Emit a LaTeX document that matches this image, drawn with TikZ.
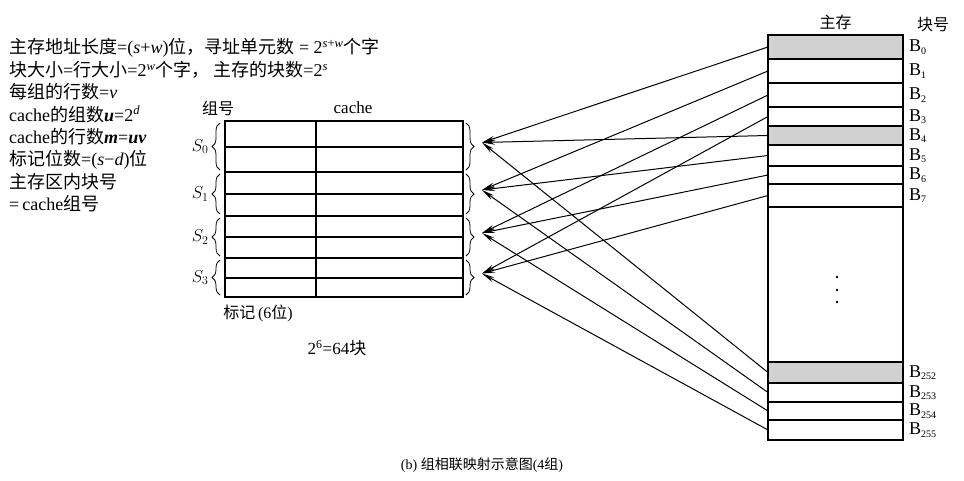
\documentclass[tikz,border=0pt]{standalone}
\usepackage{amsmath}
\usepackage{fontspec}
\setmainfont{Liberation Serif}
\newfontfamily\cjk{Noto Sans CJK SC}
\usetikzlibrary{arrows.meta,positioning,decorations.pathreplacing}

\newcommand{\vr}[1]{\textit{#1}}

\tikzset{
  txt/.style={font=\fontsize{16}{19}\selectfont, inner sep=1pt},
  note/.style={font=\fontsize{18}{22}\selectfont, inner sep=1pt, anchor=base west},
  memrow/.style={draw, line width=1.3pt, minimum width=135pt, inner sep=0pt, outer sep=0pt},
  shaded/.style={memrow, fill=black!18},
  cell/.style={draw, line width=1.2pt, inner sep=0pt, outer sep=0pt},
  setbrace/.style={decorate, decoration={brace, amplitude=8pt}, line width=0.8pt},
}

\begin{document}
\begin{tikzpicture}[x=1pt, y=-1pt, >={Stealth[length=13pt,width=5pt]}]
  \useasboundingbox (0,0) rectangle (964,481);

  % notes on the left
  \node[note] (note1) at (8,54)    {{\cjk 主存地址长度}=(\vr{s}+\vr{w}){\cjk 位，寻址单元数} = 2\textsuperscript{\vr{s}+\vr{w}}{\cjk 个字}};
  \node[note] (note2) at (8,76.4)  {{\cjk 块大小}={\cjk 行大小}=2\textsuperscript{\vr{w}}{\cjk 个字，\ 主存的块数}=2\textsuperscript{\vr{s}}};
  \node[note] (note3) at (8,98.8)  {{\cjk 每组的行数}=\vr{v}};
  \node[note] (note4) at (8,121.2) {cache{\cjk 的组数}\textbf{\vr{u}}=2\textsuperscript{\vr{d}}};
  \node[note] (note5) at (8,143.6) {cache{\cjk 的行数}\textbf{\vr{m}}=\textbf{\vr{uv}}};
  \node[note] (note6) at (8,166)   {{\cjk 标记位数}=(\vr{s}−\vr{d}){\cjk 位}};
  \node[note] (note7) at (8,188.4) {{\cjk 主存区内块号}};
  \node[note] (note8) at (8,210.8) {=\,cache{\cjk 组号}};

  % main memory
  \node[draw, line width=1.6pt, minimum width=135pt, minimum height=405pt, inner sep=0pt] (mem) at (835.5,237.5) {};
  \foreach \n/\ya/\yb/\sty in {0/35/59/shaded, 1/59/83/memrow, 2/83/107/memrow, 3/107/126/memrow,
                              4/126/145/shaded, 5/145/166/memrow, 6/166/184/memrow, 7/184/207/memrow,
                              252/362/383/shaded, 253/383/402/memrow, 254/402/420/memrow, 255/420/440/memrow}
  {
    \node[\sty, minimum height={(\yb-\ya)*1pt}] (B\n) at (835.5,{(\ya+\yb)/2}) {};
    \node[txt, anchor=west, font=\fontsize{18}{19}\selectfont] (lbB\n) at ([xshift=5pt]B\n.east) {B\textsubscript{\fontsize{10}{10}\selectfont\n}};
  }
  \node[txt] (memhd) [above=3pt of mem] {\cjk 主存};
  \node[txt] (blkhd) at (933,25) {\cjk 块号};
  \foreach \y in {277,290,302}
    \fill (837,\y) circle (1.3pt);

  % cache
  \foreach \i/\ya/\yb in {0/121/147, 1/147/172, 2/172/194, 3/194/216, 4/216/237, 5/237/258, 6/258/278, 7/278/297}
  {
    \node[cell, minimum width=91pt, minimum height={(\yb-\ya)*1pt}] (tag\i) at (270.5,{(\ya+\yb)/2}) {};
    \node[cell, minimum width=147pt, minimum height={(\yb-\ya)*1pt}, right=0pt of tag\i] (line\i) {};
  }
  \draw[line width=1.8pt] (tag0.north west) rectangle (line7.south east);
  \node[txt] (grouphd) at (218,108) {\cjk 组号};
  \node[txt, font=\fontsize{17}{19}\selectfont] (cachehd) at (353,108) {cache};
  \node[txt] (tagnote) at (258,313) {{\cjk 标记}\,(6{\cjk 位})};
  \node[txt, font=\fontsize{17}{19}\selectfont] (count) at (337,348) {2\textsuperscript{6}=64{\cjk 块}};

  % sets
  \foreach \k/\p/\q in {0/0/1, 1/2/3, 2/4/5, 3/6/7}
  {
    \draw[setbrace] ([xshift=-5pt,yshift=2pt]tag\q.south west) -- ([xshift=-5pt,yshift=-2pt]tag\p.north west)
      node[txt, midway, left=10pt, font=\fontsize{17}{19}\selectfont] (S\k) {$S_{\k}$};
    \draw[setbrace] ([xshift=3pt,yshift=-2pt]line\p.north east) -- ([xshift=3pt,yshift=2pt]line\q.south east)
      coordinate[midway, xshift=16pt, yshift=4pt] (set\k);
  }

  % mapping
  \path[->, line width=1pt]
    (B0.west)   edge (set0)
    (B1.west)   edge (set1)
    (B2.west)   edge (set2)
    (B3.west)   edge (set3)
    (B4.west)   edge (set0)
    (B5.west)   edge (set1)
    (B6.west)   edge (set2)
    (B7.west)   edge (set3)
    (B252.west) edge (set0)
    (B253.west) edge (set1)
    (B254.west) edge (set2)
    (B255.west) edge (set3);

  \node[txt, font=\fontsize{14}{17}\selectfont] (caption) at (482,465) {(b) {\cjk 组相联映射示意图}(4{\cjk 组})};
\end{tikzpicture}
\end{document}
